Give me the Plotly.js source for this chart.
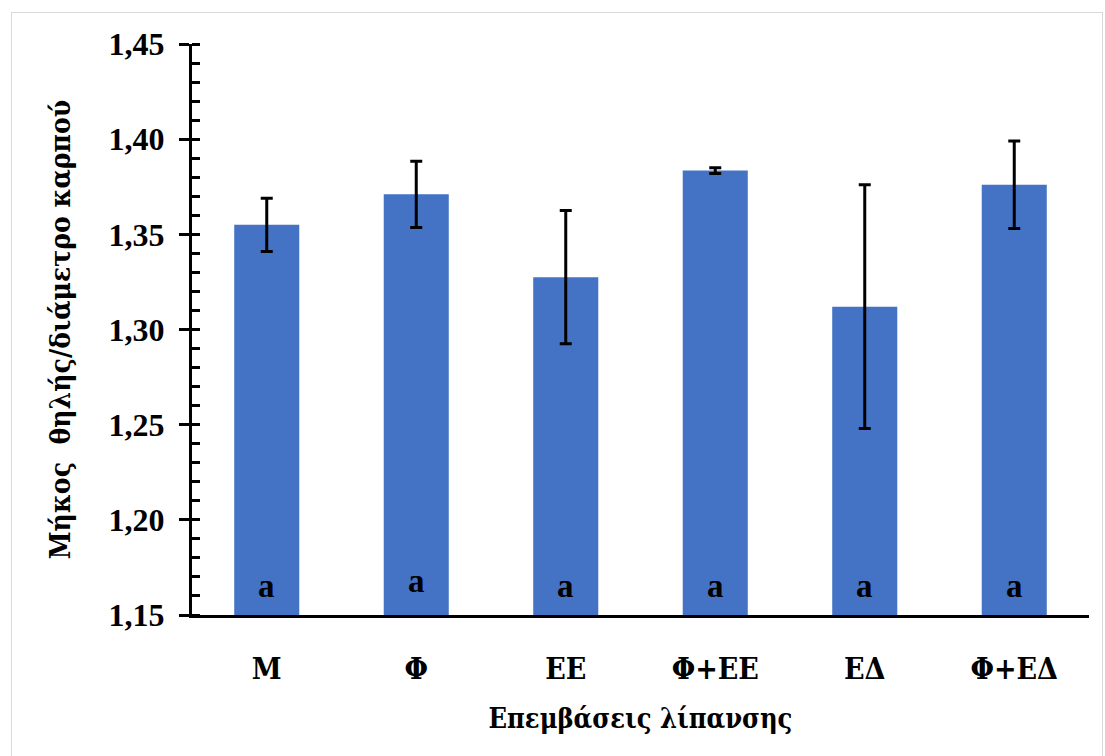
<!DOCTYPE html>
<html>
<head>
<meta charset="utf-8">
<script src="https://cdn.plot.ly/plotly-3.0.1.min.js"></script>
<style>
html,body{margin:0;padding:0;background:#fff;}
#frame{position:absolute;left:11px;top:12px;width:1092px;height:750px;border:1.5px solid #d9d9d9;box-sizing:border-box;}
#chart{position:absolute;left:0;top:0;width:1105px;height:756px;}
</style>
</head>
<body>
<div id="frame"></div>
<div id="chart"></div>
<script>
const categories = ["Μ", "Φ", "ΕΕ", "Φ+ΕΕ", "ΕΔ", "Φ+ΕΔ"];
const values = [1.355, 1.371, 1.3275, 1.3835, 1.312, 1.376];
const errors = [0.014, 0.0174, 0.035, 0.0015, 0.064, 0.023];
const letters = ["a", "a", "a", "a", "a", "a"];
const yTicks = [1.15, 1.20, 1.25, 1.30, 1.35, 1.40, 1.45];
const yMin = 1.15;

const serif = "'Liberation Serif', serif";
const greek = "'DejaVu Serif Condensed', 'DejaVu Serif'";

const bars = {
  type: "bar",
  x: categories,
  y: values.map(v => v - yMin),
  base: yMin,
  width: 0.435,
  marker: {color: "#4472C4", line: {width: 0}},
  error_y: {type: "data", array: errors, visible: true, color: "#000", thickness: 3, width: 6},
  hoverinfo: "skip"
};

const dummy = {type: "scatter", x: [categories[0]], y: [1.3], yaxis: "y2", mode: "markers", marker: {opacity: 0}, hoverinfo: "skip", showlegend: false};

const annotations = categories.map((c, i) => ({
  x: c, y: 1.1655, xref: "x", yref: "y",
  text: "<b>" + letters[i] + "</b>", showarrow: false,
  yanchor: "middle", yshift: i === 1 ? 5 : 0,
  font: {family: serif, size: 33, color: "#000"}
}));

const layout = {
  width: 1105, height: 756,
  margin: {l: 192, r: 16, t: 44, b: 141},
  paper_bgcolor: "rgba(0,0,0,0)",
  plot_bgcolor: "rgba(0,0,0,0)",
  separators: ",.",
  showlegend: false,
  font: {family: serif},
  xaxis: {
    type: "category",
    showline: true, linecolor: "#000", linewidth: 3,
    ticks: "", showgrid: false, zeroline: false,
    tickfont: {family: greek, size: 30, color: "#000", weight: "bold"},
    ticklabelstandoff: 25,
    title: {text: "<b>Επεμβάσεις λίπανσης</b>", font: {family: greek, size: 27, color: "#000"}, standoff: 25},
    automargin: false
  },
  yaxis: {
    range: [1.15, 1.45],
    tickvals: yTicks,
    tickformat: ".2f",
    showline: true, linecolor: "#000", linewidth: 3,
    ticks: "outside", ticklen: 10, tickwidth: 3, tickcolor: "#000",
    minor: {dtick: 0.01, ticks: "inside", ticklen: 8, tickwidth: 3, tickcolor: "#000"},
    showgrid: false, zeroline: false,
    tickfont: {family: serif, size: 32, color: "#000", weight: "bold"},
    ticklabelstandoff: 8,
    title: {text: "<b>Μήκος  θηλής/διάμετρο καρπού</b>", font: {family: greek, size: 28, color: "#000"}, standoff: 30},
    automargin: false
  },
  yaxis2: {
    overlaying: "y", range: [1.15, 1.45], tickvals: yTicks,
    ticks: "inside", ticklen: 8, tickwidth: 3, tickcolor: "#000",
    showticklabels: false, showgrid: false, zeroline: false, showline: false
  },
  annotations: annotations
};

Plotly.newPlot("chart", [bars, dummy], layout, {displayModeBar: false, staticPlot: true});
</script>
</body>
</html>
